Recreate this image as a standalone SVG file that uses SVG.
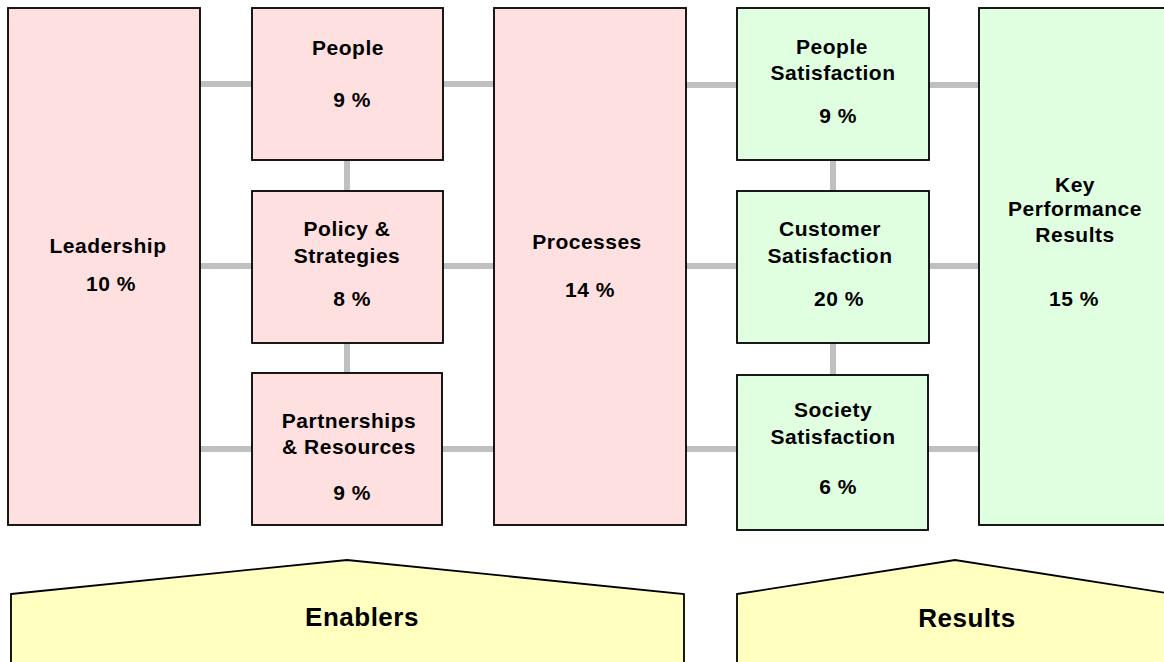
<svg xmlns="http://www.w3.org/2000/svg" width="1164" height="662" viewBox="0 0 1164 662">
  <style>
    .enabler { fill: #FFE0E0; stroke: #000; stroke-width: 1.8; }
    .result { fill: #E0FFE0; stroke: #000; stroke-width: 1.8; }
    .base { fill: #FFFFC0; stroke: #000; stroke-width: 1.8; }
    .link { stroke: #C0C0C0; stroke-width: 6; fill: none; }
    text { font-family: "Liberation Sans", Arial, sans-serif; font-weight: bold; font-size: 21px; fill: #000; text-anchor: middle; letter-spacing: 0.5px; }
    .big { font-size: 26px; letter-spacing: 0.5px; }
  </style>

  <!-- connectors (drawn behind the boxes) -->
  <g id="connectors">
    <line class="link" x1="200" y1="84" x2="252" y2="84"/>
    <line class="link" x1="200" y1="266" x2="252" y2="266"/>
    <line class="link" x1="200" y1="449" x2="252" y2="449"/>
    <line class="link" x1="443" y1="84" x2="494" y2="84"/>
    <line class="link" x1="443" y1="266" x2="494" y2="266"/>
    <line class="link" x1="442" y1="449" x2="494" y2="449"/>
    <line class="link" x1="686" y1="85" x2="737" y2="85"/>
    <line class="link" x1="686" y1="266" x2="737" y2="266"/>
    <line class="link" x1="686" y1="449" x2="737" y2="449"/>
    <line class="link" x1="929" y1="85" x2="979" y2="85"/>
    <line class="link" x1="929" y1="266" x2="979" y2="266"/>
    <line class="link" x1="928" y1="449" x2="979" y2="449"/>
    <line class="link" x1="347" y1="160" x2="347" y2="191"/>
    <line class="link" x1="347" y1="343" x2="347" y2="373"/>
    <line class="link" x1="833" y1="160" x2="833" y2="191"/>
    <line class="link" x1="833" y1="343" x2="833" y2="375"/>
  </g>

  <g id="leadership">
    <rect class="enabler" x="8" y="8" width="192" height="517"/>
    <text x="108" y="253">Leadership</text>
    <text x="111" y="291">10 %</text>
  </g>

  <g id="people">
    <rect class="enabler" x="252" y="8" width="191" height="152"/>
    <text x="348" y="55">People</text>
    <text x="352" y="107">9 %</text>
  </g>

  <g id="policy-strategies">
    <rect class="enabler" x="252" y="191" width="191" height="152"/>
    <text x="347" y="236">Policy &amp;</text>
    <text x="347" y="263">Strategies</text>
    <text x="352" y="306">8 %</text>
  </g>

  <g id="partnerships-resources">
    <rect class="enabler" x="252" y="373" width="190" height="152"/>
    <text x="349" y="428">Partnerships</text>
    <text x="349" y="454">&amp; Resources</text>
    <text x="352" y="500">9 %</text>
  </g>

  <g id="processes">
    <rect class="enabler" x="494" y="8" width="192" height="517"/>
    <text x="587" y="249">Processes</text>
    <text x="590" y="297">14 %</text>
  </g>

  <g id="people-satisfaction">
    <rect class="result" x="737" y="8" width="192" height="152"/>
    <text x="832" y="54">People</text>
    <text x="833" y="80">Satisfaction</text>
    <text x="838" y="123">9 %</text>
  </g>

  <g id="customer-satisfaction">
    <rect class="result" x="737" y="191" width="192" height="152"/>
    <text x="830" y="236">Customer</text>
    <text x="830" y="263">Satisfaction</text>
    <text x="839" y="306">20 %</text>
  </g>

  <g id="society-satisfaction">
    <rect class="result" x="737" y="375" width="191" height="155"/>
    <text x="833" y="417">Society</text>
    <text x="833" y="444">Satisfaction</text>
    <text x="838" y="494">6 %</text>
  </g>

  <g id="key-performance-results">
    <rect class="result" x="979" y="8" width="192" height="517"/>
    <text x="1075" y="192">Key</text>
    <text x="1075" y="216">Performance</text>
    <text x="1075" y="242">Results</text>
    <text x="1074" y="306">15 %</text>
  </g>

  <g id="enablers">
    <polygon class="base" points="11,594 347,560 684,594 684,672 11,672"/>
    <text class="big" x="362" y="626">Enablers</text>
  </g>

  <g id="results">
    <polygon class="base" points="737,594 955,560 1173,594 1173,672 737,672"/>
    <text class="big" x="967" y="627">Results</text>
  </g>
</svg>
